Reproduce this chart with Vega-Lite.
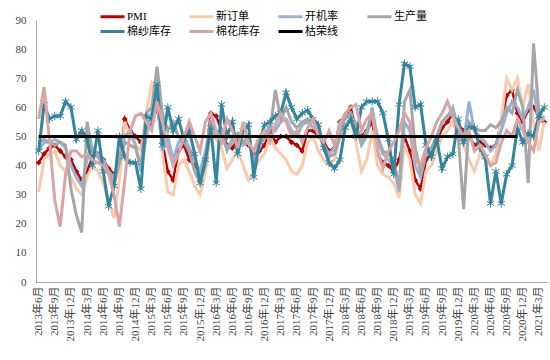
{
  "$schema": "https://vega.github.io/schema/vega-lite/v6.json",
  "width": 511,
  "height": 262,
  "autosize": {"type": "none"},
  "padding": {"left": 36, "top": 20, "right": 3, "bottom": 78},
  "background": "white",
  "config": {"view": {"stroke": null}, "font": "Liberation Serif, Noto Sans CJK SC"},
  "data": {"values": [
{"i":0,"m":"2013年6月","PMI":41,"新订单":31,"开机率":45,"生产量":48,"棉纱库存":45,"棉花库存":56,"枯荣线":50},
{"i":1,"m":"2013年7月","PMI":44,"新订单":42,"开机率":48,"生产量":49,"棉纱库存":61,"棉花库存":67,"枯荣线":50},
{"i":2,"m":"2013年8月","PMI":46,"新订单":44,"开机率":48,"生产量":48,"棉纱库存":56,"棉花库存":49,"枯荣线":50},
{"i":3,"m":"2013年9月","PMI":47,"新订单":45,"开机率":49,"生产量":47,"棉纱库存":57,"棉花库存":28,"枯荣线":50},
{"i":4,"m":"2013年10月","PMI":45,"新订单":40,"开机率":48,"生产量":48,"棉纱库存":57,"棉花库存":19,"枯荣线":50},
{"i":5,"m":"2013年11月","PMI":43,"新订单":38,"开机率":46,"生产量":47,"棉纱库存":62,"棉花库存":37,"枯荣线":50},
{"i":6,"m":"2013年12月","PMI":42,"新订单":36,"开机率":40,"生产量":32,"棉纱库存":60,"棉花库存":45,"枯荣线":50},
{"i":7,"m":"2014年1月","PMI":38,"新订单":32,"开机率":36,"生产量":23,"棉纱库存":49,"棉花库存":45,"枯荣线":50},
{"i":8,"m":"2014年2月","PMI":35,"新订单":30,"开机率":33,"生产量":17,"棉纱库存":52,"棉花库存":43,"枯荣线":50},
{"i":9,"m":"2014年3月","PMI":38,"新订单":36,"开机率":42,"生产量":55,"棉纱库存":49,"棉花库存":44,"枯荣线":50},
{"i":10,"m":"2014年4月","PMI":43,"新订单":40,"开机率":46,"生产量":45,"棉纱库存":40,"棉花库存":42,"枯荣线":50},
{"i":11,"m":"2014年5月","PMI":44,"新订单":38,"开机率":44,"生产量":43,"棉纱库存":52,"棉花库存":41,"枯荣线":50},
{"i":12,"m":"2014年6月","PMI":42,"新订单":34,"开机率":42,"生产量":40,"棉纱库存":38,"棉花库存":40,"枯荣线":50},
{"i":13,"m":"2014年7月","PMI":39,"新订单":28,"开机率":38,"生产量":38,"棉纱库存":26,"棉花库存":37,"枯荣线":50},
{"i":14,"m":"2014年8月","PMI":37,"新订单":22,"开机率":36,"生产量":33,"棉纱库存":33,"棉花库存":30,"枯荣线":50},
{"i":15,"m":"2014年9月","PMI":40,"新订单":35,"开机率":42,"生产量":41,"棉纱库存":50,"棉花库存":19,"枯荣线":50},
{"i":16,"m":"2014年10月","PMI":56,"新订单":55,"开机率":50,"生产量":48,"棉纱库存":43,"棉花库存":35,"枯荣线":50},
{"i":17,"m":"2014年11月","PMI":52,"新订单":50,"开机率":52,"生产量":47,"棉纱库存":41,"棉花库存":52,"枯荣线":50},
{"i":18,"m":"2014年12月","PMI":50,"新订单":47,"开机率":47,"生产量":46,"棉纱库存":41,"棉花库存":57,"枯荣线":50},
{"i":19,"m":"2015年1月","PMI":48,"新订单":45,"开机率":38,"生产量":40,"棉纱库存":32,"棉花库存":58,"枯荣线":50},
{"i":20,"m":"2015年2月","PMI":52,"新订单":58,"开机率":50,"生产量":58,"棉纱库存":57,"棉花库存":55,"枯荣线":50},
{"i":21,"m":"2015年3月","PMI":55,"新订单":68,"开机率":58,"生产量":60,"棉纱库存":56,"棉花库存":52,"枯荣线":50},
{"i":22,"m":"2015年4月","PMI":60,"新订单":64,"开机率":65,"生产量":74,"棉纱库存":68,"棉花库存":62,"枯荣线":50},
{"i":23,"m":"2015年5月","PMI":48,"新订单":44,"开机率":45,"生产量":58,"棉纱库存":47,"棉花库存":55,"枯荣线":50},
{"i":24,"m":"2015年6月","PMI":38,"新订单":31,"开机率":50,"生产量":52,"棉纱库存":60,"棉花库存":46,"枯荣线":50},
{"i":25,"m":"2015年7月","PMI":35,"新订单":30,"开机率":42,"生产量":55,"棉纱库存":52,"棉花库存":40,"枯荣线":50},
{"i":26,"m":"2015年8月","PMI":45,"新订单":40,"开机率":48,"生产量":50,"棉纱库存":56,"棉花库存":44,"枯荣线":50},
{"i":27,"m":"2015年9月","PMI":47,"新订单":42,"开机率":50,"生产量":48,"棉纱库存":49,"棉花库存":50,"枯荣线":50},
{"i":28,"m":"2015年10月","PMI":42,"新订单":38,"开机率":46,"生产量":45,"棉纱库存":52,"棉花库存":55,"枯荣线":50},
{"i":29,"m":"2015年11月","PMI":40,"新订单":33,"开机率":42,"生产量":38,"棉纱库存":44,"棉花库存":50,"枯荣线":50},
{"i":30,"m":"2015年12月","PMI":38,"新订单":30,"开机率":38,"生产量":34,"棉纱库存":34,"棉花库存":45,"枯荣线":50},
{"i":31,"m":"2016年1月","PMI":42,"新订单":38,"开机率":45,"生产量":40,"棉纱库存":42,"棉花库存":55,"枯荣线":50},
{"i":32,"m":"2016年2月","PMI":58,"新订单":52,"开机率":55,"生产量":55,"棉纱库存":53,"棉花库存":58,"枯荣线":50},
{"i":33,"m":"2016年3月","PMI":57,"新订单":49,"开机率":50,"生产量":52,"棉纱库存":34,"棉花库存":52,"枯荣线":50},
{"i":34,"m":"2016年4月","PMI":52,"新订单":46,"开机率":52,"生产量":50,"棉纱库存":61,"棉花库存":48,"枯荣线":50},
{"i":35,"m":"2016年5月","PMI":47,"新订单":39,"开机率":45,"生产量":46,"棉纱库存":50,"棉花库存":56,"枯荣线":50},
{"i":36,"m":"2016年6月","PMI":46,"新订单":42,"开机率":48,"生产量":49,"棉纱库存":55,"棉花库存":52,"枯荣线":50},
{"i":37,"m":"2016年7月","PMI":49,"新订单":45,"开机率":50,"生产量":51,"棉纱库存":44,"棉花库存":46,"枯荣线":50},
{"i":38,"m":"2016年8月","PMI":48,"新订单":40,"开机率":47,"生产量":48,"棉纱库存":52,"棉花库存":55,"枯荣线":50},
{"i":39,"m":"2016年9月","PMI":47,"新订单":35,"开机率":48,"生产量":50,"棉纱库存":54,"棉花库存":48,"枯荣线":50},
{"i":40,"m":"2016年10月","PMI":44,"新订单":38,"开机率":42,"生产量":40,"棉纱库存":36,"棉花库存":45,"枯荣线":50},
{"i":41,"m":"2016年11月","PMI":45,"新订单":42,"开机率":46,"生产量":47,"棉纱库存":48,"棉花库存":50,"枯荣线":50},
{"i":42,"m":"2016年12月","PMI":47,"新订单":44,"开机率":50,"生产量":50,"棉纱库存":54,"棉花库存":52,"枯荣线":50},
{"i":43,"m":"2017年1月","PMI":52,"新订单":50,"开机率":54,"生产量":52,"棉纱库存":55,"棉花库存":48,"枯荣线":50},
{"i":44,"m":"2017年2月","PMI":48,"新订单":46,"开机率":52,"生产量":66,"棉纱库存":57,"棉花库存":54,"枯荣线":50},
{"i":45,"m":"2017年3月","PMI":50,"新订单":44,"开机率":55,"生产量":56,"棉纱库存":58,"棉花库存":58,"枯荣线":50},
{"i":46,"m":"2017年4月","PMI":50,"新订单":42,"开机率":56,"生产量":60,"棉纱库存":65,"棉花库存":55,"枯荣线":50},
{"i":47,"m":"2017年5月","PMI":48,"新订单":38,"开机率":52,"生产量":55,"棉纱库存":60,"棉花库存":50,"枯荣线":50},
{"i":48,"m":"2017年6月","PMI":47,"新订单":37,"开机率":50,"生产量":53,"棉纱库存":56,"棉花库存":52,"枯荣线":50},
{"i":49,"m":"2017年7月","PMI":45,"新订单":40,"开机率":54,"生产量":55,"棉纱库存":58,"棉花库存":48,"枯荣线":50},
{"i":50,"m":"2017年8月","PMI":52,"新订单":48,"开机率":55,"生产量":56,"棉纱库存":59,"棉花库存":53,"枯荣线":50},
{"i":51,"m":"2017年9月","PMI":52,"新订单":50,"开机率":53,"生产量":55,"棉纱库存":56,"棉花库存":56,"枯荣线":50},
{"i":52,"m":"2017年10月","PMI":50,"新订单":45,"开机率":52,"生产量":52,"棉纱库存":54,"棉花库存":50,"枯荣线":50},
{"i":53,"m":"2017年11月","PMI":48,"新订单":42,"开机率":47,"生产量":46,"棉纱库存":46,"棉花库存":48,"枯荣线":50},
{"i":54,"m":"2017年12月","PMI":45,"新订单":40,"开机率":44,"生产量":43,"棉纱库存":41,"棉花库存":52,"枯荣线":50},
{"i":55,"m":"2018年1月","PMI":46,"新订单":42,"开机率":46,"生产量":44,"棉纱库存":39,"棉花库存":47,"枯荣线":50},
{"i":56,"m":"2018年2月","PMI":55,"新订单":50,"开机率":55,"生产量":50,"棉纱库存":42,"棉花库存":54,"枯荣线":50},
{"i":57,"m":"2018年3月","PMI":57,"新订单":54,"开机率":56,"生产量":57,"棉纱库存":53,"棉花库存":58,"枯荣线":50},
{"i":58,"m":"2018年4月","PMI":60,"新订单":56,"开机率":58,"生产量":58,"棉纱库存":56,"棉花库存":60,"枯荣线":50},
{"i":59,"m":"2018年5月","PMI":52,"新订单":48,"开机率":54,"生产量":54,"棉纱库存":50,"棉花库存":61,"枯荣线":50},
{"i":60,"m":"2018年6月","PMI":50,"新订单":38,"开机率":47,"生产量":48,"棉纱库存":60,"棉花库存":52,"枯荣线":50},
{"i":61,"m":"2018年7月","PMI":52,"新订单":42,"开机率":50,"生产量":52,"棉纱库存":62,"棉花库存":56,"枯荣线":50},
{"i":62,"m":"2018年8月","PMI":55,"新订单":52,"开机率":60,"生产量":58,"棉纱库存":62,"棉花库存":58,"枯荣线":50},
{"i":63,"m":"2018年9月","PMI":44,"新订单":40,"开机率":48,"生产量":50,"棉纱库存":62,"棉花库存":45,"枯荣线":50},
{"i":64,"m":"2018年10月","PMI":41,"新订单":37,"开机率":44,"生产量":45,"棉纱库存":58,"棉花库存":39,"枯荣线":50},
{"i":65,"m":"2018年11月","PMI":40,"新订单":36,"开机率":42,"生产量":44,"棉纱库存":49,"棉花库存":45,"枯荣线":50},
{"i":66,"m":"2018年12月","PMI":38,"新订单":34,"开机率":40,"生产量":42,"棉纱库存":37,"棉花库存":48,"枯荣线":50},
{"i":67,"m":"2019年1月","PMI":42,"新订单":29,"开机率":31,"生产量":32,"棉纱库存":61,"棉花库存":52,"枯荣线":50},
{"i":68,"m":"2019年2月","PMI":50,"新订单":47,"开机率":55,"生产量":62,"棉纱库存":75,"棉花库存":58,"枯荣线":50},
{"i":69,"m":"2019年3月","PMI":45,"新订单":42,"开机率":52,"生产量":66,"棉纱库存":74,"棉花库存":55,"枯荣线":50},
{"i":70,"m":"2019年4月","PMI":35,"新订单":30,"开机率":40,"生产量":46,"棉纱库存":60,"棉花库存":42,"枯荣线":50},
{"i":71,"m":"2019年5月","PMI":32,"新订单":27,"开机率":36,"生产量":38,"棉纱库存":61,"棉花库存":40,"枯荣线":50},
{"i":72,"m":"2019年6月","PMI":42,"新订单":38,"开机率":44,"生产量":44,"棉纱库存":47,"棉花库存":46,"枯荣线":50},
{"i":73,"m":"2019年7月","PMI":44,"新订单":40,"开机率":46,"生产量":46,"棉纱库存":43,"棉花库存":50,"枯荣线":50},
{"i":74,"m":"2019年8月","PMI":48,"新订单":45,"开机率":50,"生产量":50,"棉纱库存":49,"棉花库存":55,"枯荣线":50},
{"i":75,"m":"2019年9月","PMI":53,"新订单":50,"开机率":55,"生产量":55,"棉纱库存":39,"棉花库存":58,"枯荣线":50},
{"i":76,"m":"2019年10月","PMI":55,"新订单":52,"开机率":57,"生产量":57,"棉纱库存":43,"棉花库存":62,"枯荣线":50},
{"i":77,"m":"2019年11月","PMI":58,"新订单":55,"开机率":60,"生产量":58,"棉纱库存":44,"棉花库存":57,"枯荣线":50},
{"i":78,"m":"2019年12月","PMI":54,"新订单":50,"开机率":52,"生产量":50,"棉纱库存":56,"棉花库存":53,"枯荣线":50},
{"i":79,"m":"2020年1月","PMI":52,"新订单":47,"开机率":48,"生产量":25,"棉纱库存":48,"棉花库存":50,"枯荣线":50},
{"i":80,"m":"2020年2月","PMI":50,"新订单":42,"开机率":62,"生产量":55,"棉纱库存":53,"棉花库存":52,"枯荣线":50},
{"i":81,"m":"2020年3月","PMI":47,"新订单":38,"开机率":52,"生产量":53,"棉纱库存":53,"棉花库存":45,"枯荣线":50},
{"i":82,"m":"2020年4月","PMI":48,"新订单":44,"开机率":50,"生产量":52,"棉纱库存":46,"棉花库存":47,"枯荣线":50},
{"i":83,"m":"2020年5月","PMI":47,"新订单":42,"开机率":48,"生产量":52,"棉纱库存":43,"棉花库存":44,"枯荣线":50},
{"i":84,"m":"2020年6月","PMI":46,"新订单":40,"开机率":45,"生产量":54,"棉纱库存":27,"棉花库存":40,"枯荣线":50},
{"i":85,"m":"2020年7月","PMI":47,"新订单":44,"开机率":47,"生产量":53,"棉纱库存":38,"棉花库存":41,"枯荣线":50},
{"i":86,"m":"2020年8月","PMI":55,"新订单":56,"开机率":52,"生产量":55,"棉纱库存":27,"棉花库存":48,"枯荣线":50},
{"i":87,"m":"2020年9月","PMI":64,"新订单":70,"开机率":58,"生产量":60,"棉纱库存":37,"棉花库存":52,"枯荣线":50},
{"i":88,"m":"2020年10月","PMI":66,"新订单":66,"开机率":62,"生产量":58,"棉纱库存":40,"棉花库存":50,"枯荣线":50},
{"i":89,"m":"2020年11月","PMI":58,"新订单":70,"开机率":60,"生产量":66,"棉纱库存":53,"棉花库存":56,"枯荣线":50},
{"i":90,"m":"2020年12月","PMI":55,"新订单":60,"开机率":56,"生产量":60,"棉纱库存":48,"棉花库存":52},
{"i":91,"m":"2021年1月","PMI":59,"新订单":68,"开机率":60,"生产量":34,"棉纱库存":51,"棉花库存":48},
{"i":92,"m":"2021年2月","PMI":60,"新订单":55,"开机率":66,"生产量":82,"棉纱库存":50,"棉花库存":45},
{"i":93,"m":"2021年3月","PMI":57,"新订单":45,"开机率":55,"生产量":58,"棉纱库存":57,"棉花库存":55},
{"i":94,"m":"2021年4月","PMI":55,"新订单":55,"开机率":57,"生产量":60,"棉纱库存":60,"棉花库存":56}
  ]},
  "transform": [
    {"fold": ["PMI", "新订单", "开机率", "生产量", "棉纱库存", "棉花库存", "枯荣线"], "as": ["s", "v"]},
    {"filter": "isValid(datum.v)"}
  ],
  "encoding": {
    "x": {
      "field": "m", "type": "ordinal", "sort": null,
      "scale": {"type": "point", "padding": 0.5},
      "axis": {
        "title": null, "grid": false, "ticks": false,
        "domainColor": "#A6A6A6", "domainWidth": 1,
        "labelAngle": -90, "labelAlign": "right", "labelBaseline": "middle",
        "labelFontSize": 11, "labelColor": "#404040", "labelPadding": 4,
        "labelOverlap": false, "labelBound": false,
        "values": ["2013年6月","2013年9月","2013年12月","2014年3月","2014年6月","2014年9月","2014年12月","2015年3月","2015年6月","2015年9月","2015年12月","2016年3月","2016年6月","2016年9月","2016年12月","2017年3月","2017年6月","2017年9月","2017年12月","2018年3月","2018年6月","2018年9月","2018年12月","2019年3月","2019年6月","2019年9月","2019年12月","2020年3月","2020年6月","2020年9月","2020年12月","2021年3月"]
      }
    },
    "y": {
      "field": "v", "type": "quantitative",
      "scale": {"domain": [0, 90], "nice": false},
      "axis": {
        "title": null, "grid": false, "ticks": false,
        "domainColor": "#A6A6A6", "domainWidth": 1,
        "values": [0, 10, 20, 30, 40, 50, 60, 70, 80, 90],
        "labelFontSize": 11, "labelColor": "#404040", "labelPadding": 10
      }
    },
    "order": {"field": "i", "type": "quantitative"}
  },
  "layer": [
    {
      "transform": [{"filter": "datum.s === 'PMI'"}],
      "mark": {"type": "line", "strokeWidth": 2.5},
      "encoding": {
        "color": {
          "field": "s", "type": "nominal",
          "scale": {
            "domain": ["PMI", "新订单", "开机率", "生产量", "棉纱库存", "棉花库存", "枯荣线"],
            "range": ["#C00000", "#F8CBAD", "#95B3D7", "#A6A6A6", "#31859C", "#D8A5A4", "#000000"]
          },
          "legend": {
            "title": null, "orient": "none", "legendX": 63, "legendY": -11,
            "columns": 4, "gridAlign": "all", "direction": "horizontal",
            "symbolType": "M-1,0H3", "symbolSize": 144, "symbolStrokeWidth": 3,
            "labelFontSize": 11, "labelColor": "#000000", "labelOffset": 13,
            "columnPadding": 12, "rowPadding": 1, "padding": 0, "labelLimit": 90
          }
        }
      }
    },
    {
      "transform": [{"filter": "datum.s === 'PMI'"}],
      "mark": {"type": "point", "shape": "diamond", "filled": true, "color": "#C00000", "size": 34, "opacity": 1}
    },
    {
      "transform": [{"filter": "indexof(['新订单','开机率','生产量','棉纱库存'], datum.s) >= 0"}],
      "mark": {"type": "line", "strokeWidth": 3},
      "encoding": {
        "color": {
          "field": "s", "type": "nominal",
          "scale": {
            "domain": ["PMI", "新订单", "开机率", "生产量", "棉纱库存", "棉花库存", "枯荣线"],
            "range": ["#C00000", "#F8CBAD", "#95B3D7", "#A6A6A6", "#31859C", "#D8A5A4", "#000000"]
          }
        }
      }
    },
    {
      "transform": [{"filter": "datum.s === '棉纱库存'"}],
      "mark": {"type": "point", "shape": "M0,-1L0,1M-0.87,-0.5L0.87,0.5M-0.87,0.5L0.87,-0.5", "filled": false, "stroke": "#31859C", "strokeWidth": 1, "size": 70, "opacity": 1}
    },
    {
      "transform": [{"filter": "indexof(['棉花库存','枯荣线'], datum.s) >= 0"}],
      "mark": {"type": "line", "strokeWidth": 3},
      "encoding": {
        "color": {
          "field": "s", "type": "nominal",
          "scale": {
            "domain": ["PMI", "新订单", "开机率", "生产量", "棉纱库存", "棉花库存", "枯荣线"],
            "range": ["#C00000", "#F8CBAD", "#95B3D7", "#A6A6A6", "#31859C", "#D8A5A4", "#000000"]
          }
        }
      }
    }
  ]
}
